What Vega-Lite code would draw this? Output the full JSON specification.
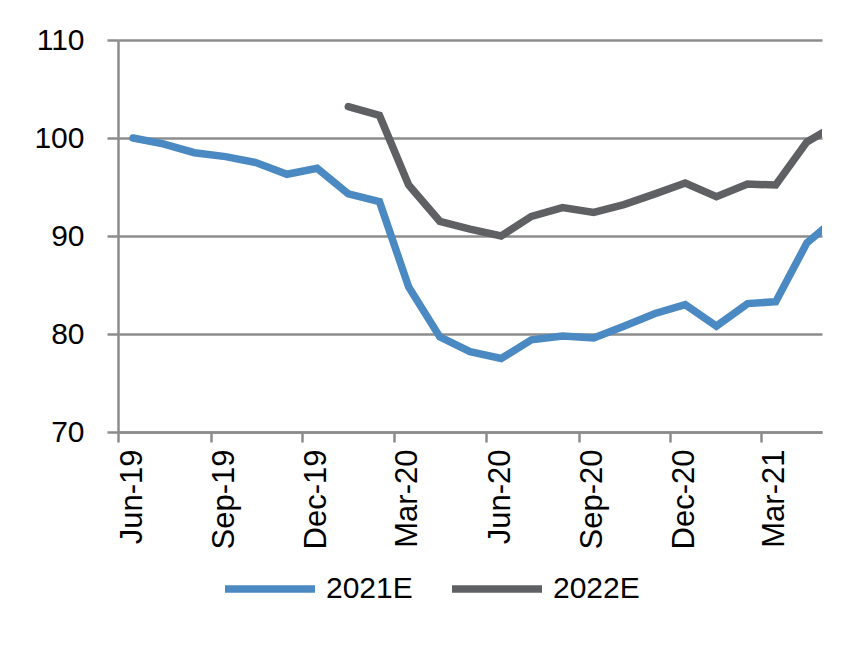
{
  "$schema": "https://vega.github.io/schema/vega-lite/v6.json",
  "autosize": "none",
  "width": 704,
  "height": 392,
  "padding": {"left": 118, "top": 40, "right": 34, "bottom": 220},
  "background": "white",
  "config": {
    "font": "Liberation Sans, Arial",
    "view": {"stroke": null}
  },
  "data": {
    "values": [
      {"date": "2019-06-16T00:00:00", "series": "2021E", "value": 100.0},
      {"date": "2019-07-16T00:00:00", "series": "2021E", "value": 99.4},
      {"date": "2019-08-16T00:00:00", "series": "2021E", "value": 98.5},
      {"date": "2019-09-16T00:00:00", "series": "2021E", "value": 98.1},
      {"date": "2019-10-16T00:00:00", "series": "2021E", "value": 97.5},
      {"date": "2019-11-16T00:00:00", "series": "2021E", "value": 96.3},
      {"date": "2019-12-16T00:00:00", "series": "2021E", "value": 96.9},
      {"date": "2020-01-16T00:00:00", "series": "2021E", "value": 94.3},
      {"date": "2020-02-16T00:00:00", "series": "2021E", "value": 93.5},
      {"date": "2020-03-16T00:00:00", "series": "2021E", "value": 84.8},
      {"date": "2020-04-16T00:00:00", "series": "2021E", "value": 79.7},
      {"date": "2020-05-16T00:00:00", "series": "2021E", "value": 78.2},
      {"date": "2020-06-16T00:00:00", "series": "2021E", "value": 77.5},
      {"date": "2020-07-16T00:00:00", "series": "2021E", "value": 79.4},
      {"date": "2020-08-16T00:00:00", "series": "2021E", "value": 79.8},
      {"date": "2020-09-16T00:00:00", "series": "2021E", "value": 79.6},
      {"date": "2020-10-16T00:00:00", "series": "2021E", "value": 80.8},
      {"date": "2020-11-16T00:00:00", "series": "2021E", "value": 82.1},
      {"date": "2020-12-16T00:00:00", "series": "2021E", "value": 83.0},
      {"date": "2021-01-16T00:00:00", "series": "2021E", "value": 80.8},
      {"date": "2021-02-16T00:00:00", "series": "2021E", "value": 83.1},
      {"date": "2021-03-16T00:00:00", "series": "2021E", "value": 83.3},
      {"date": "2021-04-16T00:00:00", "series": "2021E", "value": 89.3},
      {"date": "2021-05-16T00:00:00", "series": "2021E", "value": 91.9},
      {"date": "2020-01-16T00:00:00", "series": "2022E", "value": 103.2},
      {"date": "2020-02-16T00:00:00", "series": "2022E", "value": 102.3},
      {"date": "2020-03-16T00:00:00", "series": "2022E", "value": 95.2},
      {"date": "2020-04-16T00:00:00", "series": "2022E", "value": 91.5},
      {"date": "2020-05-16T00:00:00", "series": "2022E", "value": 90.7},
      {"date": "2020-06-16T00:00:00", "series": "2022E", "value": 90.0},
      {"date": "2020-07-16T00:00:00", "series": "2022E", "value": 92.0},
      {"date": "2020-08-16T00:00:00", "series": "2022E", "value": 92.9},
      {"date": "2020-09-16T00:00:00", "series": "2022E", "value": 92.4},
      {"date": "2020-10-16T00:00:00", "series": "2022E", "value": 93.2},
      {"date": "2020-11-16T00:00:00", "series": "2022E", "value": 94.3},
      {"date": "2020-12-16T00:00:00", "series": "2022E", "value": 95.4},
      {"date": "2021-01-16T00:00:00", "series": "2022E", "value": 94.0},
      {"date": "2021-02-16T00:00:00", "series": "2022E", "value": 95.3},
      {"date": "2021-03-16T00:00:00", "series": "2022E", "value": 95.2},
      {"date": "2021-04-16T00:00:00", "series": "2022E", "value": 99.6},
      {"date": "2021-05-16T00:00:00", "series": "2022E", "value": 101.4}
    ]
  },
  "mark": {"type": "line", "clip": true, "strokeWidth": 7.5, "strokeCap": "round"},
  "encoding": {
    "x": {
      "field": "date",
      "type": "temporal",
      "scale": {"domain": [{"year": 2019, "month": 6, "date": 1}, {"year": 2021, "month": 5, "date": 1}]},
      "axis": {
        "title": null,
        "grid": false,
        "values": [
          {"year": 2019, "month": 6, "date": 1},
          {"year": 2019, "month": 9, "date": 1},
          {"year": 2019, "month": 12, "date": 1},
          {"year": 2020, "month": 3, "date": 1},
          {"year": 2020, "month": 6, "date": 1},
          {"year": 2020, "month": 9, "date": 1},
          {"year": 2020, "month": 12, "date": 1},
          {"year": 2021, "month": 3, "date": 1}
        ],
        "format": "%b-%y",
        "labelAngle": -90,
        "labelAlign": "right",
        "labelBaseline": "middle",
        "labelOffset": 14,
        "labelPadding": 7,
        "labelFontSize": 31,
        "labelColor": "black",
        "labelFlush": false,
        "labelOverlap": false,
        "domainColor": "#8c8c8c",
        "domainWidth": 2.5,
        "tickColor": "#8c8c8c",
        "tickWidth": 2.5,
        "tickSize": 10
      }
    },
    "y": {
      "field": "value",
      "type": "quantitative",
      "scale": {"domain": [70, 110], "nice": false, "zero": false},
      "axis": {
        "title": null,
        "values": [70, 80, 90, 100, 110],
        "grid": true,
        "gridColor": "#8c8c8c",
        "gridWidth": 2.5,
        "domainColor": "#8c8c8c",
        "domainWidth": 2.5,
        "tickColor": "#8c8c8c",
        "tickWidth": 2.5,
        "tickSize": 11,
        "labelPadding": 23,
        "labelFontSize": 30,
        "labelColor": "black"
      }
    },
    "color": {
      "field": "series",
      "type": "nominal",
      "scale": {"domain": ["2021E", "2022E"], "range": ["#4a89c1", "#5f6064"]},
      "legend": {
        "title": null,
        "orient": "none",
        "direction": "horizontal",
        "legendX": 103,
        "legendY": 500,
        "symbolType": "stroke",
        "symbolSize": 8100,
        "symbolStrokeWidth": 7.5,
        "labelFontSize": 30,
        "labelColor": "black",
        "labelOffset": 7,
        "columnPadding": 24
      }
    }
  }
}
